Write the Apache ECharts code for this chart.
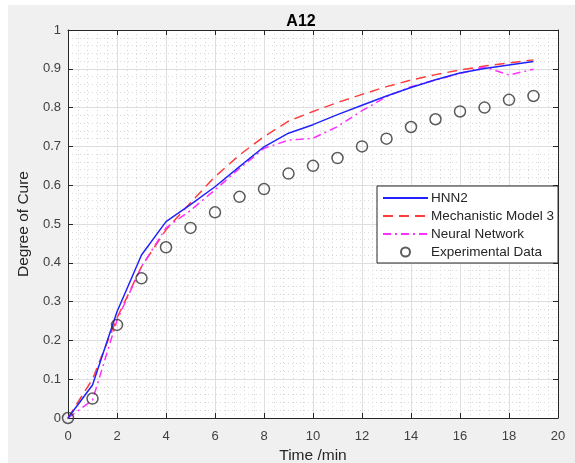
<!DOCTYPE html>
<html>
<head>
<meta charset="utf-8">
<script src="https://cdn.jsdelivr.net/npm/echarts@6/dist/echarts.min.js"></script>
<style>
html,body{margin:0;padding:0;background:#fff;}
#c{width:575px;height:463px;}
</style>
</head>
<body>
<div id="c"></div>
<script>
var time = [0,1,2,3,4,5,6,7,8,9,10,11,12,13,14,15,16,17,18,19];
var hnn2 = [0,0.085,0.274,0.42,0.506,0.55,0.596,0.648,0.699,0.734,0.756,0.782,0.806,0.83,0.852,0.872,0.889,0.901,0.91,0.919];
var mech3 = [0,0.10,0.258,0.39,0.485,0.555,0.622,0.678,0.725,0.765,0.79,0.813,0.834,0.854,0.871,0.885,0.897,0.907,0.915,0.923];
var neural = [0,0.046,0.252,0.39,0.49,0.535,0.588,0.643,0.695,0.716,0.721,0.751,0.792,0.828,0.854,0.871,0.888,0.905,0.884,0.899];
var experimental = [0,0.05,0.24,0.36,0.44,0.49,0.53,0.57,0.59,0.63,0.65,0.67,0.70,0.72,0.75,0.77,0.79,0.80,0.82,0.83];
var xTicks = [0,2,4,6,8,10,12,14,16,18,20];
var yTicks = [0,0.1,0.2,0.3,0.4,0.5,0.6,0.7,0.8,0.9,1];
var names = ['HNN2','Mechanistic Model 3','Neural Network','Experimental Data'];

function pairs(ys){ return time.map(function(t,i){ return [t, ys[i]]; }); }

var chart = echarts.init(document.getElementById('c'), null, {renderer:'canvas'});
var font = 'Liberation Sans, Arial, Helvetica, sans-serif';
var axisCol = '#262626';
var majorGrid = {show:true, lineStyle:{color:'#dedede', width:1, type:'solid'}};
var minorGrid = {show:true, lineStyle:{color:'#dadada', width:1, type:[1,3]}};

var option = {
  backgroundColor:'#ffffff',
  animation:false,
  graphic:[{type:'rect', left:8, top:5, z:-10, shape:{width:567, height:458}, style:{fill:'#f0f0f0'}}],
  title:{text:'A12', left:296, top:9, textAlign:'center',
    textStyle:{fontFamily:font, fontSize:16, fontWeight:'bold', color:'#000'}},
  grid:{left:68, right:17, top:30, bottom:45, show:true, backgroundColor:'#ffffff', borderWidth:0,
    outerBoundsMode:'none', containLabel:false},
  xAxis:[{
    type:'value', min:0, max:20, interval:2, name:'Time /min', nameLocation:'middle', nameGap:29,
    nameTextStyle:{fontFamily:font, fontSize:15.5, color:'#262626'},
    axisLine:{show:true, onZero:false, lineStyle:{color:axisCol, width:1}},
    axisTick:{show:true, inside:true, length:5, lineStyle:{color:axisCol}},
    axisLabel:{fontFamily:font, fontSize:13, color:'#404040', margin:12},
    splitLine:majorGrid,
    minorTick:{show:false, splitNumber:5},
    minorSplitLine:minorGrid
  },{
    type:'value', position:'top', min:0, max:20, interval:2,
    axisLine:{show:true, onZero:false, lineStyle:{color:axisCol, width:1}},
    axisTick:{show:true, inside:true, length:5, lineStyle:{color:axisCol}},
    axisLabel:{show:false}, splitLine:{show:false}
  }],
  yAxis:[{
    type:'value', min:0, max:1, interval:0.1, name:'Degree of Cure', nameLocation:'middle', nameGap:36,
    nameTextStyle:{fontFamily:font, fontSize:15.5, color:'#262626'},
    axisLine:{show:true, onZero:false, lineStyle:{color:axisCol, width:1}},
    axisTick:{show:true, inside:true, length:5, lineStyle:{color:axisCol}},
    axisLabel:{fontFamily:font, fontSize:13, color:'#404040', margin:7,
      formatter:function(v){ return String(Math.round(v*10)/10); }},
    splitLine:majorGrid,
    minorTick:{show:false, splitNumber:5},
    minorSplitLine:minorGrid
  },{
    type:'value', position:'right', min:0, max:1, interval:0.1,
    axisLine:{show:true, onZero:false, lineStyle:{color:axisCol, width:1}},
    axisTick:{show:true, inside:true, length:5, lineStyle:{color:axisCol}},
    axisLabel:{show:false}, splitLine:{show:false}
  }],
  legend:{
    orient:'vertical', left:377, top:186, itemGap:4, itemWidth:45, itemHeight:9,
    padding:[5,4,4,5], borderColor:'#262626', borderWidth:1, backgroundColor:'#ffffff',
    textStyle:{fontFamily:font, fontSize:13.5, color:'#262626', padding:[0,0,0,-2]},
    data:[
      {name:names[0], itemStyle:{opacity:0}},
      {name:names[1], itemStyle:{opacity:0}},
      {name:names[2], itemStyle:{opacity:0}},
      {name:names[3]}
    ]
  },
  series:[
    {name:names[0], type:'line', data:pairs(hnn2), showSymbol:false, symbol:'none',
      lineStyle:{color:'#2222ff', width:1.5, type:'solid'}, itemStyle:{color:'#2222ff'}, z:4},
    {name:names[1], type:'line', data:pairs(mech3), showSymbol:false, symbol:'none',
      lineStyle:{color:'#ff3c3c', width:1.5, type:[10,6]}, itemStyle:{color:'#ff3c3c'}, z:3},
    {name:names[2], type:'line', data:pairs(neural), showSymbol:false, symbol:'none',
      lineStyle:{color:'#ff30ff', width:1.5, type:[8,4,2,4]}, itemStyle:{color:'#ff30ff'}, z:3},
    {name:names[3], type:'scatter', data:pairs(experimental), symbol:'circle', symbolSize:11,
      itemStyle:{color:'rgba(0,0,0,0)', borderColor:'#333333', borderWidth:1.5}, z:5}
  ]
};
chart.setOption(option);
</script>
</body>
</html>
